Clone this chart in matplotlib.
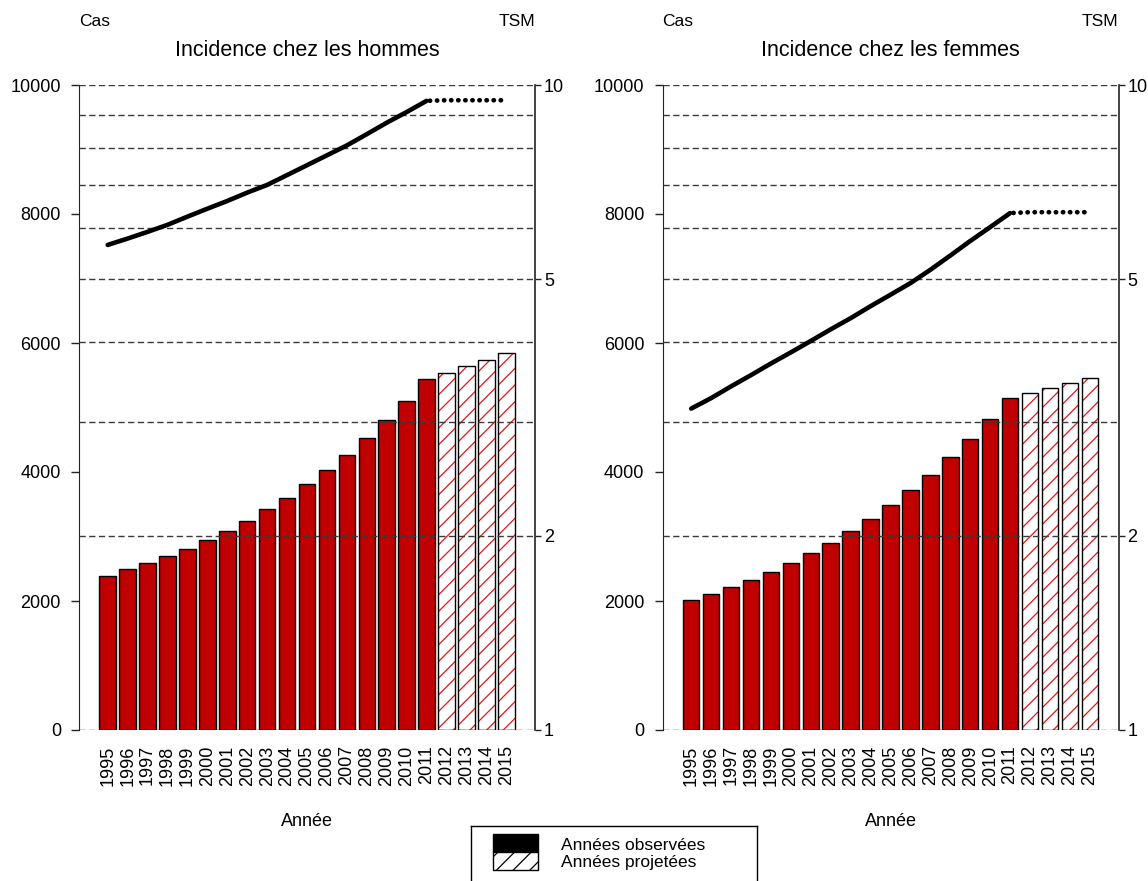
import matplotlib
matplotlib.use("Agg")
import matplotlib.pyplot as plt
from matplotlib.patches import Rectangle
from matplotlib.ticker import NullLocator

plt.rcParams["font.family"] = ["Liberation Sans", "DejaVu Sans"]
plt.rcParams["hatch.linewidth"] = 0.9

W, H = 1148, 881

years = list(range(1995, 2016))
n_obs = 17  # 1995-2011 observed, 2012-2015 projected

cas_hommes = [2394, 2491, 2588, 2696, 2813, 2951, 3090, 3248, 3422, 3601, 3811,
              4026, 4261, 4527, 4803, 5100, 5437, 5535, 5637, 5744, 5847]
cas_femmes = [2010, 2107, 2215, 2327, 2445, 2588, 2737, 2900, 3084, 3274, 3488,
              3719, 3959, 4225, 4517, 4818, 5141, 5223, 5299, 5381, 5458]

tsm_hommes = [5.65, 5.78, 5.92, 6.07, 6.25, 6.43, 6.61, 6.81, 7.00, 7.25, 7.51,
              7.78, 8.06, 8.39, 8.74, 9.08, 9.45]
tsm_hommes_proj = [9.47, 9.47, 9.47, 9.47]
tsm_femmes = [3.15, 3.27, 3.41, 3.55, 3.70, 3.85, 4.01, 4.18, 4.35, 4.54, 4.73,
              4.93, 5.17, 5.44, 5.73, 6.02, 6.33]
tsm_femmes_proj = [6.35, 6.35, 6.35, 6.35]

cas_ticks = [0, 2000, 4000, 6000, 8000, 10000]
tsm_ticks = [1, 2, 5, 10]
tsm_grid = [1, 2, 3, 4, 5, 6, 7, 8, 9, 10]

RED = "#C00000"
HATCH_RED = "#E8141B"
GRID = "#3a3a3a"
SPINE = "#222222"

fig = plt.figure(figsize=(W / 100, H / 100), dpi=100)


def draw_panel(x0, x1, cas, tsm, tsm_proj, title):
    top, bottom = 85, 730
    ax = fig.add_axes([x0 / W, 1 - bottom / H, (x1 - x0) / W, (bottom - top) / H])
    ax2 = ax.twinx()

    x = list(range(len(years)))
    x_obs = x[:n_obs]
    x_proj = x[n_obs:]

    ax.bar(x_obs, cas[:n_obs], width=0.83, color=RED, edgecolor="black",
           linewidth=1.0, zorder=2)
    ax.bar(x_proj, cas[n_obs:], width=0.83, color="white", edgecolor=HATCH_RED,
           hatch="//", linewidth=0, zorder=2)
    ax.bar(x_proj, cas[n_obs:], width=0.83, fill=False, edgecolor="black",
           linewidth=1.0, zorder=3)

    ax.set_xlim(-1.44, len(years) - 1 + 1.44)
    ax.set_ylim(0, 10000)
    ax.set_yticks(cas_ticks)
    ax.set_yticklabels([str(v) for v in cas_ticks])
    ax.set_xticks(x)
    ax.set_xticklabels([str(y) for y in years], rotation=90)
    ax.tick_params(axis="x", length=0, pad=11, labelsize=13)
    ax.tick_params(axis="y", length=6, width=1, pad=7, labelsize=13, color=SPINE)
    for s in ["top", "bottom", "right"]:
        ax.spines[s].set_visible(False)
    ax.spines["left"].set_color(SPINE)

    ax2.set_yscale("log")
    ax2.set_ylim(1, 10)
    ax2.yaxis.set_minor_locator(NullLocator())
    ax2.set_yticks(tsm_ticks)
    ax2.set_yticklabels([str(v) for v in tsm_ticks])
    ax2.tick_params(axis="y", length=4, width=1, pad=2.5, labelsize=13, color=SPINE)
    for s in ["top", "bottom", "left"]:
        ax2.spines[s].set_visible(False)
    ax2.spines["right"].set_color(SPINE)
    ax2.spines["right"].set_linewidth(1.2)

    for v in tsm_grid:
        ax2.axhline(v, color=GRID, linewidth=1.0, linestyle=(0, (4.5, 2.5)), zorder=1)

    ax2.plot(x_obs, tsm, color="black", linewidth=3.3, solid_capstyle="round",
             solid_joinstyle="round", zorder=4)
    ax2.plot([x_obs[-1]] + x_proj, [tsm[-1]] + tsm_proj, color="black",
             linewidth=3.4, linestyle=(0.8, (0.05, 1.45)), dash_capstyle="round",
             zorder=4)

    cx = (x0 + x1) / 2
    fig.text(x0 / W, 1 - 22 / H, "Cas", ha="left", va="center", fontsize=12.5)
    fig.text(x1 / W, 1 - 21 / H, "TSM", ha="right", va="center", fontsize=12.5)
    fig.text(cx / W, 1 - 51 / H, title, ha="center", va="center", fontsize=15.5)
    fig.text(cx / W, 1 - 822 / H, "Année", ha="center", va="center", fontsize=13)


draw_panel(79, 535, cas_hommes, tsm_hommes, tsm_hommes_proj, "Incidence chez les hommes")
draw_panel(662.5, 1118.5, cas_femmes, tsm_femmes, tsm_femmes_proj, "Incidence chez les femmes")

# legend box, drawn in pixel-like coordinates
lx0, lx1, ly0 = 471, 757, 826
leg = fig.add_axes([lx0 / W, -50 / H, (lx1 - lx0) / W, (H + 50 - ly0) / H])
leg.set_xlim(lx0, lx1)
leg.set_ylim(H + 50, ly0)
leg.set_xticks([])
leg.set_yticks([])
for s in leg.spines.values():
    s.set_color("black")
    s.set_linewidth(1.0)
leg.add_patch(Rectangle((493, 834), 45, 17.7, facecolor="black", edgecolor="black", linewidth=1))
leg.add_patch(Rectangle((493, 851.7), 45, 18.3, facecolor="white", edgecolor="black",
                        hatch="//", linewidth=1))
leg.text(561, 845, "Années observées", ha="left", va="center", fontsize=12.5)
leg.text(561, 862, "Années projetées", ha="left", va="center", fontsize=12.5)

fig.savefig("out.png", dpi=100)
